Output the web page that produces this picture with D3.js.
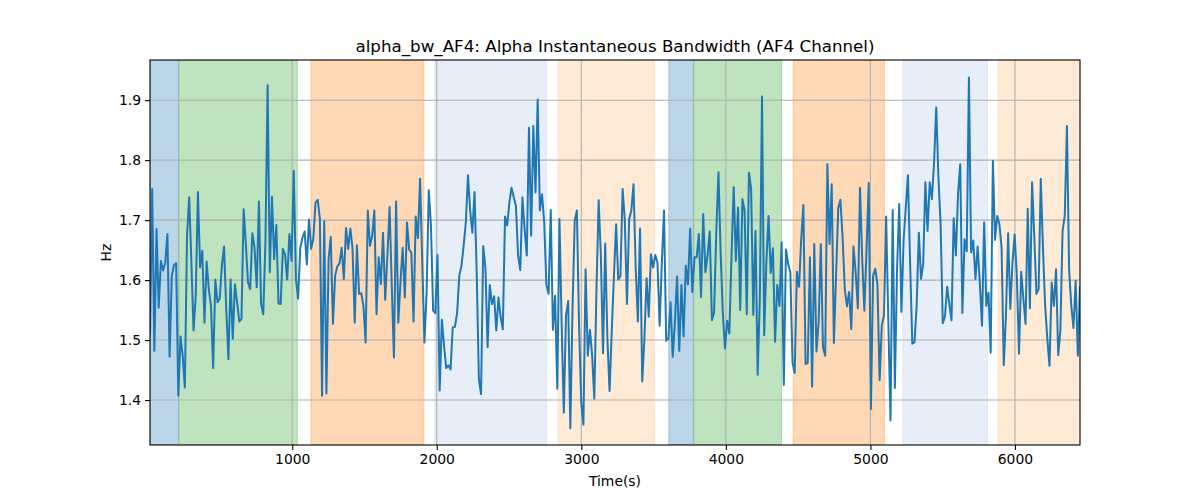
<!DOCTYPE html>
<html><head><meta charset="utf-8">
<script src="https://cdn.jsdelivr.net/npm/d3@7"></script>
<style>body{margin:0;background:#fff}svg{display:block}text{font-family:"DejaVu Sans",sans-serif}</style>
</head><body><div id="chart"></div>
<script>
const chartTitle = "alpha_bw_AF4: Alpha Instantaneous Bandwidth (AF4 Channel)";
const xLabel = "Time(s)";
const yLabel = "Hz";
const xTicks = [1000, 2000, 3000, 4000, 5000, 6000];
const yTicks = [1.4, 1.5, 1.6, 1.7, 1.8, 1.9];
const timeStart = 16;
const timeEnd = 6450;
const yRange = [1.325, 1.967];

const bandwidth = [
1.510,1.752,1.482,1.685,1.554,1.632,1.616,1.629,1.677,1.472,1.607,1.625,1.628,1.407,1.506,1.474,1.421,1.674,1.738,1.629,1.516,1.574,1.747,1.621,1.649,1.529,1.631,1.585,1.557,1.453,1.601,1.563,1.569,1.624,1.656,1.552,1.468,1.601,1.502,1.593,1.563,1.531,1.535,1.718,1.660,1.596,1.585,1.678,1.654,1.588,1.731,1.560,1.543,1.663,1.925,
1.613,1.739,1.635,1.692,1.561,1.560,1.652,1.643,1.601,1.677,1.632,1.782,1.602,1.569,1.654,1.671,1.681,1.626,1.701,1.652,1.670,1.729,1.734,1.702,1.407,1.698,1.411,1.635,1.672,1.527,1.607,1.623,1.628,1.654,1.602,1.687,1.652,1.686,1.652,1.529,1.658,1.577,1.578,1.557,1.496,1.716,1.657,1.674,1.716,1.543,1.638,1.593,
1.679,1.567,1.641,1.722,1.591,1.471,1.731,1.529,1.596,1.654,1.571,1.696,1.651,1.646,1.531,1.706,1.670,1.769,1.629,1.496,1.579,1.750,1.691,1.549,1.545,1.642,1.416,1.534,1.491,1.453,1.458,1.451,1.521,1.522,1.545,1.607,1.624,1.657,1.696,1.775,1.716,1.679,1.747,1.613,1.435,1.410,1.657,1.621,1.488,1.592,1.560,1.573,1.516,1.571,1.538,
1.518,1.706,1.691,1.729,1.754,1.738,1.724,1.641,1.617,1.738,1.685,1.641,1.854,1.674,1.857,1.746,1.901,1.716,1.743,1.696,1.592,1.577,1.717,1.517,1.574,1.419,1.702,1.529,1.379,1.541,1.565,1.353,1.552,1.699,1.716,1.524,1.396,1.359,1.618,1.474,1.517,1.474,1.402,1.585,1.733,1.642,1.478,1.661,1.503,1.415,1.514,1.606,1.693,
1.601,1.607,1.752,1.700,1.560,1.701,1.716,1.760,1.620,1.531,1.686,1.431,1.502,1.603,1.539,1.643,1.621,1.642,1.629,1.524,1.629,1.716,1.499,1.502,1.563,1.472,1.529,1.606,1.482,1.592,1.506,1.624,1.593,1.686,1.580,1.638,1.638,1.677,1.572,1.710,1.613,1.641,1.681,1.533,1.546,1.681,1.780,1.646,1.546,1.486,1.532,1.511,1.641,1.755,1.632,1.721,
1.550,1.735,1.716,1.543,1.779,1.752,1.542,1.682,1.442,1.568,1.906,1.508,1.630,1.707,1.612,1.653,1.497,1.592,1.557,1.663,1.425,1.651,1.627,1.613,1.463,1.445,1.614,1.589,1.668,1.725,1.460,1.462,1.638,1.422,1.660,1.481,1.529,1.660,1.488,1.474,1.793,1.660,1.760,1.495,1.607,1.720,1.734,1.671,1.585,1.556,1.580,1.518,1.656,1.613,
1.553,1.754,1.635,1.549,1.652,1.762,1.385,1.607,1.619,1.592,1.433,1.524,1.541,1.706,1.530,1.366,1.717,1.420,1.618,1.727,1.547,1.666,1.721,1.775,1.629,1.494,1.496,1.557,1.679,1.602,1.627,1.763,1.682,1.763,1.735,1.796,1.888,1.771,1.693,1.528,1.539,1.589,1.560,1.533,1.703,1.641,1.743,1.793,1.545,1.668,1.648,1.938,1.646,1.666,1.602,
1.656,1.596,1.524,1.696,1.557,1.579,1.479,1.799,1.667,1.707,1.693,1.654,1.458,1.541,1.678,1.552,1.629,1.676,1.607,1.477,1.614,1.568,1.527,1.719,1.553,1.763,1.674,1.577,1.585,1.769,1.652,1.557,1.502,1.457,1.596,1.557,1.618,1.475,1.516,1.682,1.707,1.857,1.618,1.557,1.520,1.599,1.474,1.588
];

const spanStart = [16, 216, 1129, 1987, 2840, 3605, 3778, 4465, 5224, 5883];
const spanEnd   = [213, 1035, 1911, 2759, 3506, 3775, 4385, 5097, 5810, 6450];
const spanGroup = ["a", "b", "c", "d", "e", "a", "b", "c", "d", "e"];

const groupColor = {a: "#1f77b4", b: "#2ca02c", c: "#ff7f0e", d: "#aec7e8", e: "#ffbb78"};

const W = 1200, H = 500;
const m = {left: 150, right: 120, top: 60, bottom: 55};
const iw = W - m.left - m.right, ih = H - m.top - m.bottom;

const step = (timeEnd - timeStart) / (bandwidth.length - 1);
const series = bandwidth.map((v, i) => ({t: timeStart + i * step, v}));
const spans = spanStart.map((s, i) => ({s, e: spanEnd[i], g: spanGroup[i]}));

const x = d3.scaleLinear().domain([timeStart, timeEnd]).range([0, iw]);
const y = d3.scaleLinear().domain(yRange).range([ih, 0]);

const svg = d3.select("#chart").append("svg").attr("width", W).attr("height", H);
svg.append("defs").append("clipPath").attr("id", "clip")
  .append("rect").attr("width", iw).attr("height", ih);
const g = svg.append("g").attr("transform", `translate(${m.left},${m.top})`);

const spanG = g.append("g").attr("clip-path", "url(#clip)");
spanG.selectAll("rect").data(spans).join("rect")
  .attr("x", d => x(d.s)).attr("y", 0)
  .attr("width", d => x(d.e) - x(d.s)).attr("height", ih)
  .attr("fill", d => groupColor[d.g]).attr("fill-opacity", 0.3)
  .attr("stroke", d => groupColor[d.g]).attr("stroke-opacity", 0.3).attr("stroke-width", 1);

// grid
const grid = g.append("g");
grid.selectAll("line.gx").data(xTicks).join("line").attr("class", "gx")
  .attr("x1", d => x(d)).attr("x2", d => x(d)).attr("y1", 0).attr("y2", ih)
  .attr("stroke", "#b0b0b0").attr("stroke-width", 1.1);
grid.selectAll("line.gy").data(yTicks).join("line").attr("class", "gy")
  .attr("y1", d => y(d)).attr("y2", d => y(d)).attr("x1", 0).attr("x2", iw)
  .attr("stroke", "#b0b0b0").attr("stroke-width", 1.1);

const line = d3.line().x(d => x(d.t)).y(d => y(d.v));
g.append("path").datum(series).attr("clip-path", "url(#clip)")
  .attr("fill", "none").attr("stroke", "#1f77b4").attr("stroke-width", 2)
  .attr("stroke-linejoin", "round").attr("stroke-linecap", "square")
  .attr("d", line);

// spines
g.append("rect").attr("width", iw).attr("height", ih)
  .attr("fill", "none").attr("stroke", "#000").attr("stroke-width", 1.1);

const xAxis = g.append("g").attr("transform", `translate(0,${ih})`)
  .call(d3.axisBottom(x).tickValues(xTicks).tickFormat(d3.format("d")).tickSize(5).tickPadding(4));
const yAxis = g.append("g")
  .call(d3.axisLeft(y).tickValues(yTicks).tickFormat(d3.format(".1f")).tickSize(5).tickPadding(4));
[xAxis, yAxis].forEach(a => {
  a.select(".domain").remove();
  a.selectAll(".tick line").attr("stroke", "#000").attr("stroke-width", 1.1);
  a.selectAll(".tick text").attr("fill", "#000").style("font-size", "13.9px").style("font-family", "DejaVu Sans");
});

svg.append("text").attr("x", m.left + iw / 2).attr("y", 52)
  .attr("text-anchor", "middle").style("font-size", "16.7px").text(chartTitle);
svg.append("text").attr("x", m.left + iw / 2).attr("y", 486)
  .attr("text-anchor", "middle").style("font-size", "13.9px").text(xLabel);
svg.append("text").attr("transform", `translate(111,${m.top + ih / 2}) rotate(-90)`)
  .attr("text-anchor", "middle").style("font-size", "13.9px").text(yLabel);
</script></body></html>
